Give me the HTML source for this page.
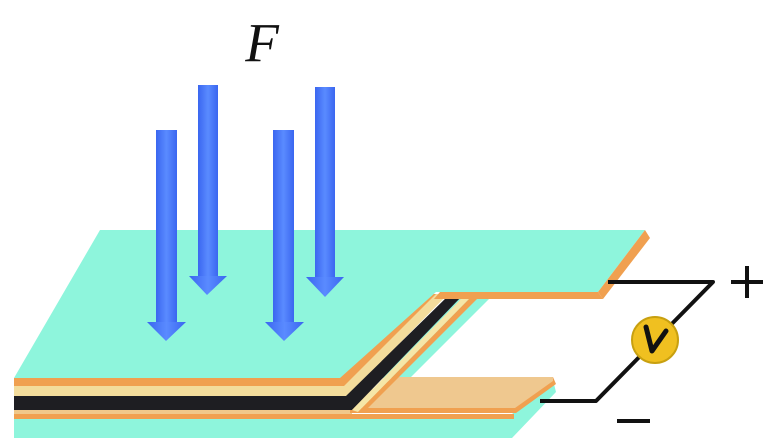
<!DOCTYPE html>
<html><head><meta charset="utf-8"><style>html,body{margin:0;padding:0;background:#fff}svg{display:block}</style></head>
<body>
<svg width="780" height="448" viewBox="0 0 780 448" xmlns="http://www.w3.org/2000/svg">
<defs>
<linearGradient id="ab" x1="0" x2="1" y1="0" y2="0">
<stop offset="0" stop-color="#3a66f0"/><stop offset="0.5" stop-color="#5a8bff"/><stop offset="1" stop-color="#3a66f0"/>
</linearGradient>
</defs>
<!-- green seen through notch -->
<polygon points="452,296 492,296 410,378 380,378" fill="#8ef5dc"/>
<!-- bottom slab -->
<polygon points="14,414 512,414 553,380 556,392 512,438 14,438" fill="#8ef5dc"/>
<!-- lower orange/beige layers -->
<polygon points="14,408 352,408 352,419 14,419" fill="#f0c88a"/>
<rect x="14" y="414" width="500" height="5" fill="#f0a050"/>
<!-- beige bottom tab -->
<polygon points="397,377 553,377 553,383 515,410 350,410 350,400" fill="#efc88f"/>
<polygon points="350,404 518,404 553,377 556,384 516,413 350,413" fill="#f0a050"/>
<polygon points="352,404 515,404 553,377 553,381 515,408 352,408" fill="#efc88f"/>
<!-- stack layers along notch -->
<polygon points="14,378 338,378 422,294 440,294 346,388 14,388" fill="#f0a050"/>
<polygon points="14,386 344,386 436,294 448,294 348,396 14,396" fill="#f3dc9c"/>
<polygon points="14,396 346,396 448,296 462,296 352,410 14,410" fill="#1e1e22"/>
<polygon points="352,410 462,298 470,298 358,412" fill="#f5e6a8"/>
<polygon points="358,412 470,298 478,298 364,412" fill="#f0a050"/>
<!-- top green face -->
<polygon points="100,230 645,230 598,292 436,292 340,378 14,378" fill="#8ef5dc"/>
<polygon points="645,230 650,238 603,299 598,292" fill="#f0a050"/>
<polygon points="440,292 598,292 603,299 434,299" fill="#f0a050"/>
<!-- arrows -->
<g fill="url(#ab)">
<rect x="156" y="130" width="21" height="194"/><polygon points="147,322 186,322 166,341"/>
<rect x="198" y="85" width="20" height="193"/><polygon points="189,276 227,276 207,295"/>
<rect x="273" y="130" width="21" height="194"/><polygon points="265,322 304,322 284,341"/>
<rect x="315" y="87" width="20" height="192"/><polygon points="306,277 344,277 325,297"/>
</g>
<!-- circuit -->
<polyline points="608,282 713,282 596,401 540,401" fill="none" stroke="#111" stroke-width="4" stroke-linejoin="round"/>
<circle cx="655" cy="340" r="23" fill="#f0c020" stroke="#c8a010" stroke-width="2"/>
<path d="M646,327 L652,351 L666,331" fill="none" stroke="#111" stroke-width="5" stroke-linecap="round" stroke-linejoin="round"/>
<text x="262" y="61" font-family="Liberation Serif, serif" font-style="italic" font-size="55" text-anchor="middle" fill="#111">F</text>
<rect x="731" y="280" width="32" height="4" fill="#111"/><rect x="745" y="266" width="4" height="32" fill="#111"/>
<rect x="617" y="419" width="33" height="4" fill="#111"/>
</svg>
</body></html>
